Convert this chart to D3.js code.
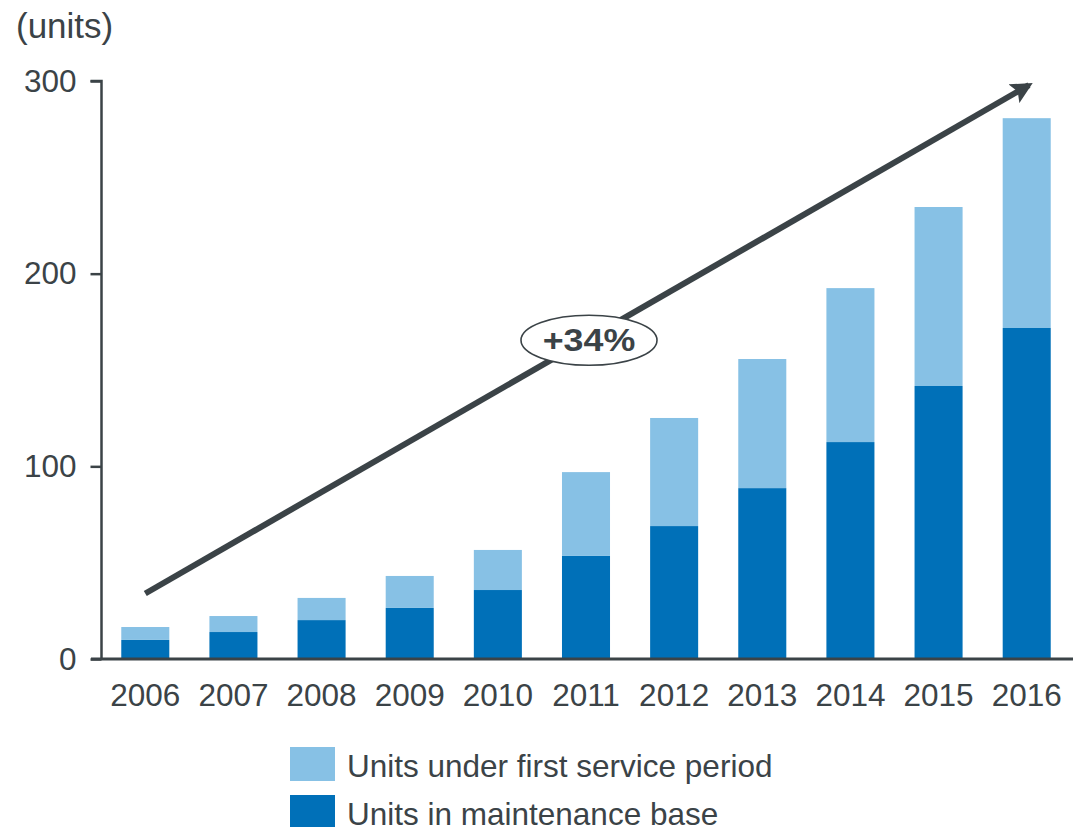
<!DOCTYPE html>
<html>
<head>
<meta charset="utf-8">
<script src="https://cdn.jsdelivr.net/npm/d3@7"></script>
<style>
  html, body { margin: 0; padding: 0; background: #ffffff; }
  svg { display: block; font-family: "Liberation Sans", Arial, Helvetica, sans-serif; }
</style>
</head>
<body>
<svg id="chart" width="1073" height="827"></svg>
<script>
// Installed base per year (units)
const years = ["2006", "2007", "2008", "2009", "2010", "2011", "2012", "2013", "2014", "2015", "2016"];
const maintenanceBase = [9.9, 14.0, 20.2, 26.5, 35.8, 53.5, 69.0, 88.7, 112.6, 141.7, 171.8];
const firstServicePeriod = [6.7, 8.3, 11.5, 16.6, 20.8, 43.5, 56.1, 67.0, 79.9, 92.9, 108.9];
const yTicks = [0, 100, 200, 300];
const seriesKeys = ["maintenance", "firstService"];
const seriesLabels = {
  firstService: "Units under first service period",
  maintenance: "Units in maintenance base"
};
const growthLabel = "+34%";
// Trend arrow anchors, in data space
const arrowStart = { year: "2006", value: 34 };
const arrowEnd = { year: "2016", value: 299 };

const colors = { maintenance: "#0070b8", firstService: "#87c1e5" };
const ink = "#3b4347";

const rows = years.map((y, i) => ({
  year: y,
  maintenance: maintenanceBase[i],
  firstService: firstServicePeriod[i]
}));

const svg = d3.select("#chart");

const x = d3.scaleBand()
  .domain(years)
  .range([101, 1071])
  .paddingInner(0.455)
  .paddingOuter(0.23);

const y = d3.scaleLinear()
  .domain([0, 300])
  .range([659, 81]);

const stacked = d3.stack().keys(seriesKeys)(rows);

// Stacked bars
svg.append("g")
  .selectAll("g")
  .data(stacked)
  .join("g")
  .attr("fill", d => colors[d.key])
  .selectAll("rect")
  .data(d => d)
  .join("rect")
  .attr("x", d => x(d.data.year))
  .attr("width", x.bandwidth())
  .attr("y", d => y(d[1]))
  .attr("height", d => y(d[0]) - y(d[1]));

// Y axis
const yAxis = svg.append("g")
  .attr("transform", "translate(101.5,0)")
  .call(d3.axisLeft(y).tickValues(yTicks).tickSize(11).tickPadding(14).tickFormat(d3.format("d")));
yAxis.select(".domain").attr("stroke", ink).attr("stroke-width", 2.5).attr("d", `M-11,${y(300)}H0V${y(0)}`);
yAxis.selectAll(".tick line").attr("stroke", ink).attr("stroke-width", 2.5);
yAxis.selectAll(".tick text")
  .attr("fill", ink)
  .style("font-size", "31.5px")
  .attr("font-family", null);

// X axis
const xAxis = svg.append("g")
  .attr("transform", `translate(0,${y(0)})`)
  .call(d3.axisBottom(x).tickSize(0).tickPadding(25));
xAxis.select(".domain").attr("stroke", ink).attr("stroke-width", 2.8).attr("d", "M91,0H1073");
xAxis.selectAll(".tick text")
  .attr("fill", ink)
  .style("font-size", "31.5px")
  .attr("font-family", null);

// Unit label
svg.append("text")
  .attr("x", 16)
  .attr("y", 38)
  .attr("fill", ink)
  .style("font-size", "35px")
  .text("(units)");

// Growth arrow
const headScale = 3.6;
svg.append("defs").append("marker")
  .attr("id", "arrowhead")
  .attr("viewBox", "0 0 10 10")
  .attr("refX", 8)
  .attr("refY", 5)
  .attr("markerWidth", headScale)
  .attr("markerHeight", headScale)
  .attr("markerUnits", "strokeWidth")
  .attr("orient", "auto")
  .append("path")
  .attr("d", "M0,0L10,5L0,10L2,5Z")
  .attr("fill", ink);

const strokeW = 6;
const ax0 = x(arrowStart.year) + x.bandwidth() / 2;
const ay0 = y(arrowStart.value);
const ax1 = x(arrowEnd.year) + x.bandwidth() / 2 + 6;
const ay1 = y(arrowEnd.value);
const len = Math.hypot(ax1 - ax0, ay1 - ay0);
const ux = (ax1 - ax0) / len, uy = (ay1 - ay0) / len;
const back = 2 * headScale * strokeW / 10;

svg.append("line")
  .attr("x1", ax0).attr("y1", ay0)
  .attr("x2", ax1 - ux * back).attr("y2", ay1 - uy * back)
  .attr("stroke", ink)
  .attr("stroke-width", strokeW)
  .attr("marker-end", "url(#arrowhead)");

// Growth badge at the arrow midpoint
const mx = (ax0 + ax1) / 2;
const my = (ay0 + ay1) / 2 + 2;
svg.append("ellipse")
  .attr("cx", mx).attr("cy", my)
  .attr("rx", 68).attr("ry", 25)
  .attr("fill", "#ffffff")
  .attr("stroke", ink)
  .attr("stroke-width", 1.6);
svg.append("text")
  .attr("transform", `translate(${mx},${my + 11}) scale(1.12,1)`)
  .attr("text-anchor", "middle")
  .attr("fill", ink)
  .style("font-size", "32px")
  .style("font-weight", "bold")
  .text(growthLabel);

// Legend
const legendItems = ["firstService", "maintenance"];
const legend = svg.append("g")
  .selectAll("g")
  .data(legendItems)
  .join("g")
  .attr("transform", (d, i) => `translate(290,${747 + i * 48})`);
legend.append("rect")
  .attr("width", 45)
  .attr("height", 34)
  .attr("fill", d => colors[d]);
legend.append("text")
  .attr("x", 57)
  .attr("y", 30)
  .attr("fill", ink)
  .style("font-size", "31.5px")
  .text(d => seriesLabels[d]);
</script>
</body>
</html>
